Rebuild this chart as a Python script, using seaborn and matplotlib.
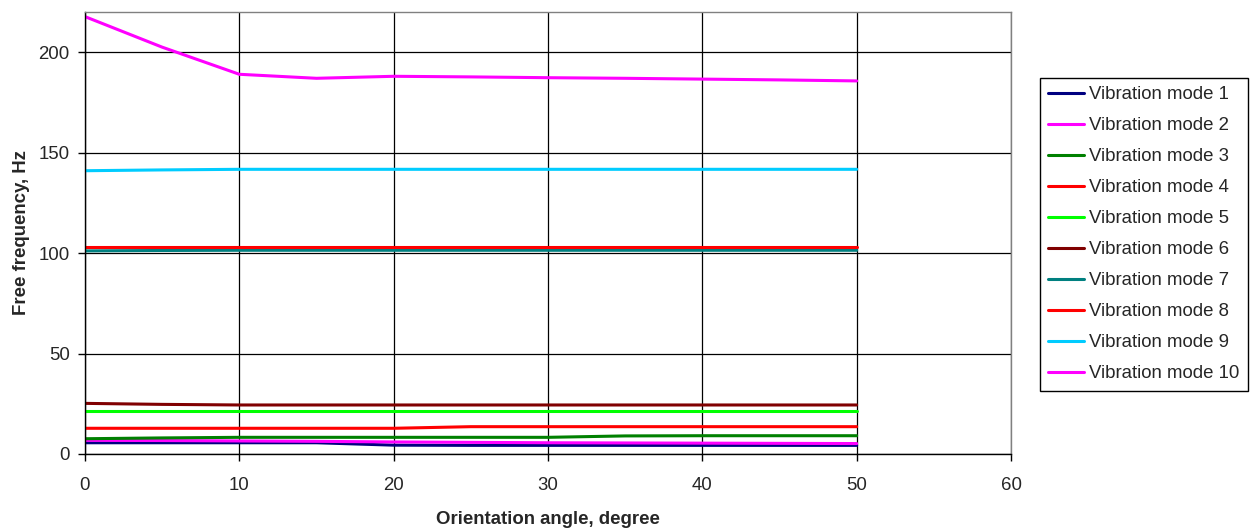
import matplotlib
matplotlib.use("Agg")
import matplotlib.pyplot as plt
import seaborn as sns

# Orientation angle (degree) and free frequencies (Hz)
angle = [0, 5, 10, 15, 20, 25, 30, 35, 40, 45, 50]

mode1 = [5.6, 5.6, 5.6, 5.6, 4.4, 4.3, 4.3, 4.3, 4.3, 4.3, 4.3]
mode2 = [6.8, 6.7, 6.5, 6.3, 6.0, 5.8, 5.6, 5.5, 5.4, 5.3, 5.2]
mode3 = [7.6, 8.0, 8.3, 8.3, 8.3, 8.3, 8.3, 9.0, 9.1, 9.1, 9.1]
mode4 = [12.8, 12.8, 12.8, 12.8, 12.8, 13.6, 13.6, 13.6, 13.6, 13.6, 13.6]
mode5 = [21.6, 21.6, 21.6, 21.6, 21.6, 21.6, 21.6, 21.6, 21.6, 21.6, 21.6]
mode6 = [25.2, 24.7, 24.4, 24.4, 24.4, 24.4, 24.4, 24.4, 24.4, 24.4, 24.4]
mode7 = [101.1, 101.3, 101.4, 101.4, 101.4, 101.4, 101.4, 101.4, 101.4, 101.4, 101.4]
mode8 = [103.0, 103.0, 103.0, 103.0, 103.0, 103.0, 103.0, 103.0, 103.0, 103.0, 103.0]
mode9 = [141.0, 141.4, 141.7, 141.7, 141.7, 141.7, 141.7, 141.7, 141.7, 141.7, 141.7]
mode10 = [217.7, 202.5, 189.0, 187.0, 188.0, 187.7, 187.3, 187.0, 186.6, 186.2, 185.7]

modes = [mode1, mode2, mode3, mode4, mode5, mode6, mode7, mode8, mode9, mode10]
labels = ["Vibration mode %d" % (i + 1) for i in range(10)]
colors = ["#000080", "#FF00FF", "#008000", "#FF0000", "#00FF00",
          "#800000", "#008080", "#FF0000", "#00CCFF", "#FF00FF"]

sns.set_style("white")
plt.rcParams["font.family"] = ["Liberation Sans", "DejaVu Sans"]

fig = plt.figure(figsize=(12.56, 5.29), dpi=100)
ax = fig.add_axes([85 / 1256, 1 - 454 / 529, (1011 - 85) / 1256, (454 - 12) / 529])

for vals, lab, col in zip(modes, labels, colors):
    sns.lineplot(x=angle, y=vals, color=col, label=lab, lw=2.2, ax=ax)

ax.set_xlim(0, 60)
ax.set_ylim(0, 220)
ax.set_xticks(range(0, 61, 10))
ax.set_yticks(range(0, 201, 50))
ax.grid(True, color="black", lw=0.9)
ax.set_axisbelow(True)

for side in ["left", "bottom"]:
    ax.spines[side].set_color("black")
    ax.spines[side].set_linewidth(1.0)
for side in ["top", "right"]:
    ax.spines[side].set_color("#808080")
    ax.spines[side].set_linewidth(1.0)

ax.tick_params(axis="both", direction="out", length=5, width=1, color="black",
               labelsize=13.4, bottom=True, left=True)
ax.tick_params(axis="x", pad=11.5)
ax.tick_params(axis="y", pad=6)

ax.set_xlabel("Orientation angle, degree", fontsize=13.4, fontweight="bold", labelpad=12)
ax.set_ylabel("Free frequency, Hz", fontsize=13.4, fontweight="bold", labelpad=6)

leg = ax.legend(loc="upper left", bbox_to_anchor=(1040 / 1256, 1 - 78 / 529),
                bbox_transform=fig.transFigure, borderaxespad=0, fontsize=13.4,
                frameon=True, fancybox=False, framealpha=1, edgecolor="black",
                handlelength=1.9, handletextpad=0.3, labelspacing=0.75,
                borderpad=0.45)
leg.get_frame().set_linewidth(1.0)

fig.savefig("out.png", dpi=100)
